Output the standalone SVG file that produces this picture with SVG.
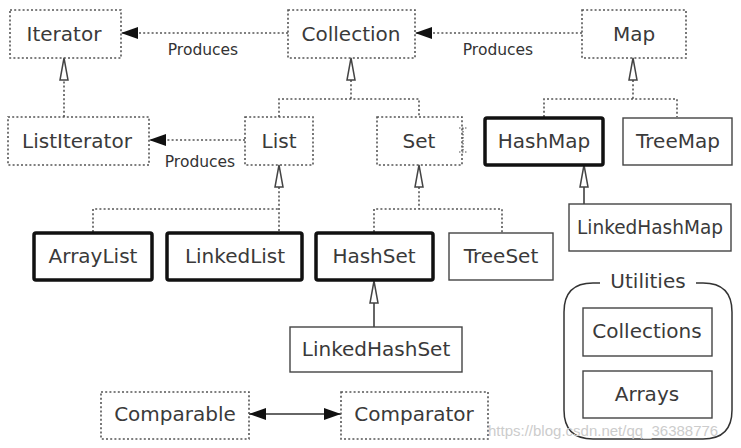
<svg xmlns="http://www.w3.org/2000/svg" width="741" height="448" viewBox="0 0 741 448">
<defs>
<style>
.t{font-family:"DejaVu Sans",sans-serif;font-size:20px;fill:#3a3a3a;text-anchor:middle}
.p{font-family:"DejaVu Sans",sans-serif;font-size:15.5px;fill:#333;text-anchor:middle}
.dot{fill:none;stroke:#555;stroke-width:1.6;stroke-dasharray:2 2.2}
.thin{fill:none;stroke:#444;stroke-width:1.4}
.bold{fill:none;stroke:#111;stroke-width:3.5}
.cd{fill:none;stroke:#555;stroke-width:1.6;stroke-dasharray:2 2.2}
.cs{fill:none;stroke:#333;stroke-width:1.5}
.tri{fill:#fff;stroke:#444;stroke-width:1.5}
.wm{font-family:"Liberation Sans",sans-serif;font-size:15px;fill:#ccc}
</style>
<marker id="fa" markerWidth="18" markerHeight="12" refX="17" refY="6" orient="auto" markerUnits="userSpaceOnUse">
<path d="M0,0 L17,6 L0,12 Z" fill="#111"/>
</marker>
<marker id="fs" markerWidth="18" markerHeight="12" refX="17" refY="6" orient="auto-start-reverse" markerUnits="userSpaceOnUse">
<path d="M0,0 L17,6 L0,12 Z" fill="#111"/>
</marker>
</defs>
<rect width="741" height="448" fill="#fff"/>

<g id="connectors">
<line class="cd" x1="288" y1="33" x2="121" y2="33" marker-end="url(#fa)"/>
<text class="p" x="203" y="55">Produces</text>
<line class="cd" x1="582" y1="33" x2="415" y2="33" marker-end="url(#fa)"/>
<text class="p" x="498" y="55">Produces</text>
<line class="cd" x1="245" y1="140" x2="149" y2="140" marker-end="url(#fa)"/>
<text class="p" x="200" y="167">Produces</text>
<path class="cd" d="M64,117 V80"/>
<path class="tri" d="M64,58 L68,80 L60,80 Z"/>
<path class="cd" d="M351,80 V99 M279,117 V99 H419 V117"/>
<path class="tri" d="M351,58 L355,80 L347,80 Z"/>
<path class="cd" d="M633,80 V99 M544,117 V99 H677 V117"/>
<path class="tri" d="M633,58 L637,80 L629,80 Z"/>
<path class="cd" d="M279,187 V232 M93,232 V209 H279"/>
<path class="tri" d="M279,165 L283,187 L275,187 Z"/>
<path class="cd" d="M419,187 V209 M374,232 V209 H502 V233"/>
<path class="tri" d="M419,165 L423,187 L415,187 Z"/>
<path class="cs" d="M374,303 V327"/>
<path class="tri" d="M374,281 L378,303 L370,303 Z"/>
<path class="cs" d="M584,187 V204"/>
<path class="tri" d="M584,165 L588,187 L580,187 Z"/>
<line class="cs" x1="249" y1="414" x2="341" y2="414" marker-start="url(#fs)" marker-end="url(#fa)"/>
<path d="M463,128 V152 M459,128 H467 M459,152 H467" fill="none" stroke="#555" stroke-width="1.2" stroke-dasharray="1.5 1.5"/>
</g>

<g id="Iterator"><rect class="dot" x="10" y="10" width="111" height="48"/><text class="t" x="64" y="41">Iterator</text></g>
<g id="Collection"><rect class="dot" x="288" y="10" width="127" height="48"/><text class="t" x="351" y="41">Collection</text></g>
<g id="Map"><rect class="dot" x="582" y="10" width="104" height="48"/><text class="t" x="634" y="41">Map</text></g>
<g id="ListIterator"><rect class="dot" x="8" y="117" width="141" height="48"/><text class="t" x="77" y="148">ListIterator</text></g>
<g id="List"><rect class="dot" x="245" y="117" width="68" height="48"/><text class="t" x="279" y="148">List</text></g>
<g id="Set"><rect class="dot" x="377" y="117" width="85" height="48"/><text class="t" x="419" y="148">Set</text></g>
<g id="HashMap"><rect class="bold" x="485" y="118" width="118" height="47" rx="2"/><text class="t" x="544" y="148">HashMap</text></g>
<g id="TreeMap"><rect class="thin" x="623" y="118" width="109" height="47"/><text class="t" x="678" y="148">TreeMap</text></g>
<g id="ArrayList"><rect class="bold" x="34" y="233" width="118" height="47" rx="2"/><text class="t" x="93" y="263">ArrayList</text></g>
<g id="LinkedList"><rect class="bold" x="167" y="233" width="135" height="47" rx="2"/><text class="t" x="235" y="263">LinkedList</text></g>
<g id="HashSet"><rect class="bold" x="316" y="233" width="117" height="47" rx="2"/><text class="t" x="374" y="263">HashSet</text></g>
<g id="TreeSet"><rect class="thin" x="449" y="233" width="104" height="47"/><text class="t" x="501" y="263">TreeSet</text></g>
<g id="LinkedHashMap"><rect class="thin" x="569" y="204" width="162" height="47"/><text class="t" x="650" y="234" textLength="146" lengthAdjust="spacingAndGlyphs">LinkedHashMap</text></g>
<g id="LinkedHashSet"><rect class="thin" x="290" y="327" width="172" height="45"/><text class="t" x="376" y="356">LinkedHashSet</text></g>
<g id="Utilities">
<path class="cs" d="M600,283 H593 Q564,283 564,312 V410 Q564,439 593,439 H703 Q732,439 732,410 V312 Q732,283 703,283 H696"/>
<text class="t" x="648" y="288">Utilities</text>
</g>
<g id="Collections"><rect class="thin" x="583" y="308" width="129" height="48"/><text class="t" x="647" y="338">Collections</text></g>
<g id="Arrays"><rect class="thin" x="583" y="371" width="129" height="47"/><text class="t" x="647" y="401">Arrays</text></g>
<g id="Comparable"><rect class="dot" x="101" y="392" width="148" height="47"/><text class="t" x="175" y="421">Comparable</text></g>
<g id="Comparator"><rect class="dot" x="341" y="392" width="147" height="47"/><text class="t" x="414" y="421">Comparator</text></g>
<text class="wm" x="488" y="436">https://blog.csdn.net/qq_36388776</text>
</svg>
